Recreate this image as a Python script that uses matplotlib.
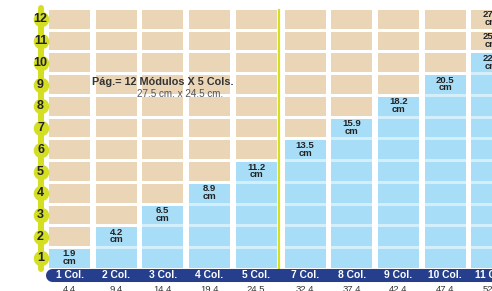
import matplotlib
matplotlib.use("Agg")
import matplotlib.pyplot as plt
from matplotlib import font_manager

# ---------------- data ----------------
cols = ["1 Col.", "2 Col.", "3 Col.", "4 Col.", "5 Col.",
        "7 Col.", "8 Col.", "9 Col.", "10 Col.", "11 Col."]
widths_cm = ["4.4", "9.4", "14.4", "19.4", "24.5",
             "32.4", "37.4", "42.4", "47.4", "52.4"]
modules_used = [1, 2, 3, 4, 5, 6, 7, 8, 9, 10]
row_numbers = list(range(1, 13))
heights_cm = ["1.9", "4.2", "6.5", "8.9", "11.2", "13.5",
              "15.9", "18.2", "20.5", "22.8", "25.2", "27.5"]
extra_label_rows = {9: [11, 12]}
title = "Pág.= 12 Módulos X 5 Cols."
subtitle = "27.5 cm. x 24.5 cm."

# ---------------- style ----------------
TAN = "#EBD5B7"
BLUE = "#A8DDF7"
LIGHT_BLUE = "#D2EFFB"
NAVY = "#263F8C"
YELLOW = "#D4DE22"
DARK = "#222222"

names = {f.name for f in font_manager.fontManager.ttflist}
NARROW = "Liberation Sans Narrow" if "Liberation Sans Narrow" in names else "Liberation Sans"
SANS = "Liberation Sans"

fig = plt.figure(figsize=(4.92, 2.91), dpi=100)
ax = fig.add_axes([0, 0, 1, 1])
ax.set_xlim(-1.49, 9.057)
ax.set_ylim(-0.495, 12.89)
ax.axis("off")

xs = [i + (0.05 if i >= 5 else 0.0) for i in range(len(cols))]
cell_w = 0.878
cell_h = 0.86

# tan grid
for r in row_numbers:
    ax.bar(xs, [cell_h] * len(xs), bottom=r - cell_h / 2, width=cell_w,
           color=TAN, zorder=1)
# blue columns (light background strip + cells)
ax.bar(xs, [m - 1 + cell_h for m in modules_used], bottom=1 - cell_h / 2,
       width=cell_w, color=LIGHT_BLUE, zorder=2)
for r in row_numbers:
    sel = [x for x, m in zip(xs, modules_used) if r <= m]
    if sel:
        ax.bar(sel, [cell_h] * len(sel), bottom=r - cell_h / 2, width=cell_w,
               color=BLUE, zorder=3)

# cell labels
for i, (x, m) in enumerate(zip(xs, modules_used)):
    rows = [m] + extra_label_rows.get(i, [])
    for r in rows:
        ax.text(x, r + 0.03, heights_cm[r - 1] + "\ncm", ha="center", va="center",
                fontsize=6.8, fontweight="bold", color=DARK, family=SANS,
                linespacing=0.82, zorder=5)

# separator between 5 and 7 columns
ax.plot([4.5, 4.5], [1 - cell_h / 2, 12 + cell_h / 2], color=YELLOW, lw=1.6, zorder=4)

# bottom band
band_y = 0.218
ax.plot([-0.385, 10], [band_y, band_y], color=NAVY, lw=9.4,
        solid_capstyle="round", zorder=4)
for x, c in zip(xs, cols):
    ax.text(x, band_y, c, ha="center", va="center", color="white",
            fontsize=7.4, fontweight="bold", family=NARROW, zorder=5)
for x, w in zip(xs, widths_cm):
    ax.text(x, -0.242, w, ha="center", va="top", color="#333333",
            fontsize=6.8, family=SANS, zorder=5)

# left rail with row numbers
rail_x = -0.621
ax.plot([rail_x, rail_x], [0.517, 12.52], color=YELLOW, lw=4.3,
        solid_capstyle="round", zorder=4)
ax.scatter([rail_x] * len(row_numbers), row_numbers, s=125, color=YELLOW,
           linewidths=0, zorder=5)
for r in row_numbers:
    ax.text(rail_x, r, str(r), ha="center", va="center", fontsize=9,
            fontweight="bold", color=DARK, family=NARROW, zorder=6)

# annotation
ax.text(2.004, 9.1, title, ha="center", va="center", fontsize=7.8,
        fontweight="bold", color="#333333", family=SANS, zorder=6)
ax.text(2.37, 8.58, subtitle, ha="center", va="center", fontsize=7.1,
        color="#555555", family=SANS, zorder=6)

fig.savefig("out.png", dpi=100)
